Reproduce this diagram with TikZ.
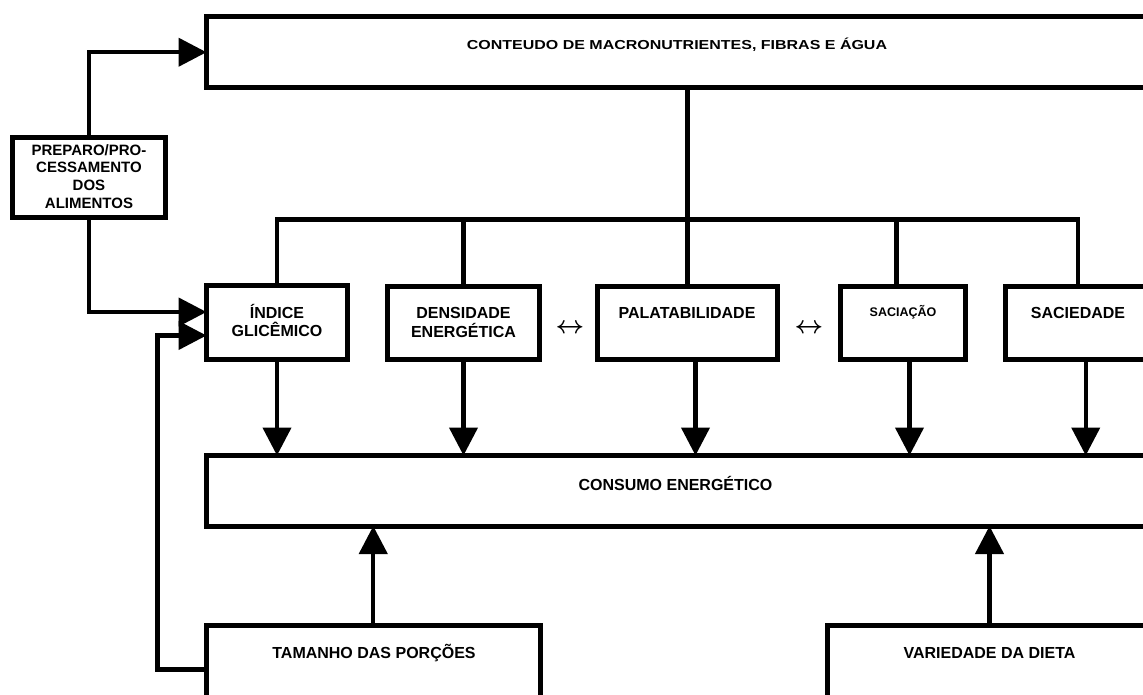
\documentclass[tikz,border=0pt]{standalone}
\usepackage{fontspec}
\usepackage{graphicx}
\setmainfont{Liberation Sans}
\usetikzlibrary{arrows.meta,calc}
\tikzset{
  box/.style={draw, line width=5pt, rectangle, inner sep=0pt, outer sep=0pt, anchor=north west},
  conn/.style={line width=4.3pt},
  arr/.style={conn, -{Triangle[length=28pt,width=28pt]}},
  lbl/.style={inner sep=0pt, anchor=base, align=center, font=\bfseries\fontsize{16}{18}\selectfont},
  dbl/.style={inner sep=0pt, font=\fontsize{23}{23}\selectfont\boldmath},
}
\newcommand{\mkbox}[5]{\node[box, minimum width=#4pt-#2pt, minimum height=#5pt-#3pt] (#1) at (#2,#3) {};}
\begin{document}
\begin{tikzpicture}[x=1pt,y=-1pt]
\useasboundingbox (0,0) rectangle (1143,695);
\clip (0,0) rectangle (1143,695);
% boxes
\mkbox{top}{206.5}{17}{1168.5}{87.5}
\mkbox{prep}{12.5}{137.5}{165.5}{217.5}
\mkbox{ind}{206.5}{285.5}{347.5}{359.5}
\mkbox{den}{387.5}{286.5}{539.5}{359.5}
\mkbox{pal}{597.5}{286}{777.5}{359.5}
\mkbox{sca}{840.5}{286}{965.5}{359.5}
\mkbox{scd}{1005.5}{286}{1150}{359.5}
\mkbox{cons}{206.5}{455.5}{1168.5}{526}
\mkbox{tam}{206.5}{625}{540}{714}
\mkbox{var}{827.5}{625.5}{1151.5}{714}
% helper coordinates
\coordinate (pin) at ($(ind.north west)+(0,26.5)$);
\coordinate (fin) at ($(ind.north west)+(0,50)$);
\coordinate (fbc) at (157.5,669.5);
\coordinate (bus) at (687.5,219.5);
% connectors
\draw[arr] (prep.north) |- (top.west);
\draw[arr] (prep.south) |- (pin);
\draw[arr] (tam.west) -- (fbc) |- (fin);
\draw[conn] (top.south) -- (bus);
\draw[conn] (ind.north) -- (ind.north |- bus) -- (scd.north |- bus) -- (scd.north);
\draw[conn] (den.north) -- (den.north |- bus);
\draw[conn] (pal.north) -- (pal.north |- bus);
\draw[conn] ([xshift=-6.5pt]sca.north) -- ([xshift=-6.5pt]sca.north |- bus);
\draw[arr] (ind.south) -- (ind.south |- cons.north);
\draw[arr] (den.south) -- (den.south |- cons.north);
\draw[arr] ([xshift=8pt]pal.south) -- ([xshift=8pt]pal.south |- cons.north);
\draw[arr] ([xshift=6.5pt]sca.south) -- ([xshift=6.5pt]sca.south |- cons.north);
\draw[arr] ([xshift=8pt]scd.south) -- ([xshift=8pt]scd.south |- cons.north);
\draw[arr] (tam.north) -- (tam.north |- cons.south);
\draw[arr] (var.north) -- (var.north |- cons.south);
% texts
\node[lbl, font=\bfseries\fontsize{13}{15}\selectfont] (ttop) at (677,50) {\scalebox{1.23}[1]{CONTEUDO DE MACRONUTRIENTES, FIBRAS E ÁGUA}};
\node[lbl, font=\bfseries\fontsize{15}{17.8}\selectfont] (tprep) at (89,208.5) {PREPARO/PRO-\\CESSAMENTO\\DOS\\ALIMENTOS};
\node[lbl] (tind) at (277,336) {ÍNDICE\\GLICÊMICO};
\node[lbl, font=\bfseries\fontsize{16}{19}\selectfont] (tden) at (463.5,337) {DENSIDADE\\ENERGÉTICA};
\node[lbl] (tpal) at (687,318) {PALATABILIDADE};
\node[lbl, font=\bfseries\fontsize{12.5}{15}\selectfont] (tsca) at (903,316.5) {SACIAÇÃO};
\node[lbl] (tscd) at (1078,318) {SACIEDADE};
\node[lbl] (tcons) at (675.5,490) {CONSUMO ENERGÉTICO};
\node[lbl] (ttam) at (374,658) {TAMANHO DAS PORÇÕES};
\node[lbl] (tvar) at (989.5,658) {VARIEDADE DA DIETA};
\node[dbl] (lr1) at (570,329) {$\leftrightarrow$};
\node[dbl] (lr2) at (809,329) {$\leftrightarrow$};
\end{tikzpicture}
\end{document}
